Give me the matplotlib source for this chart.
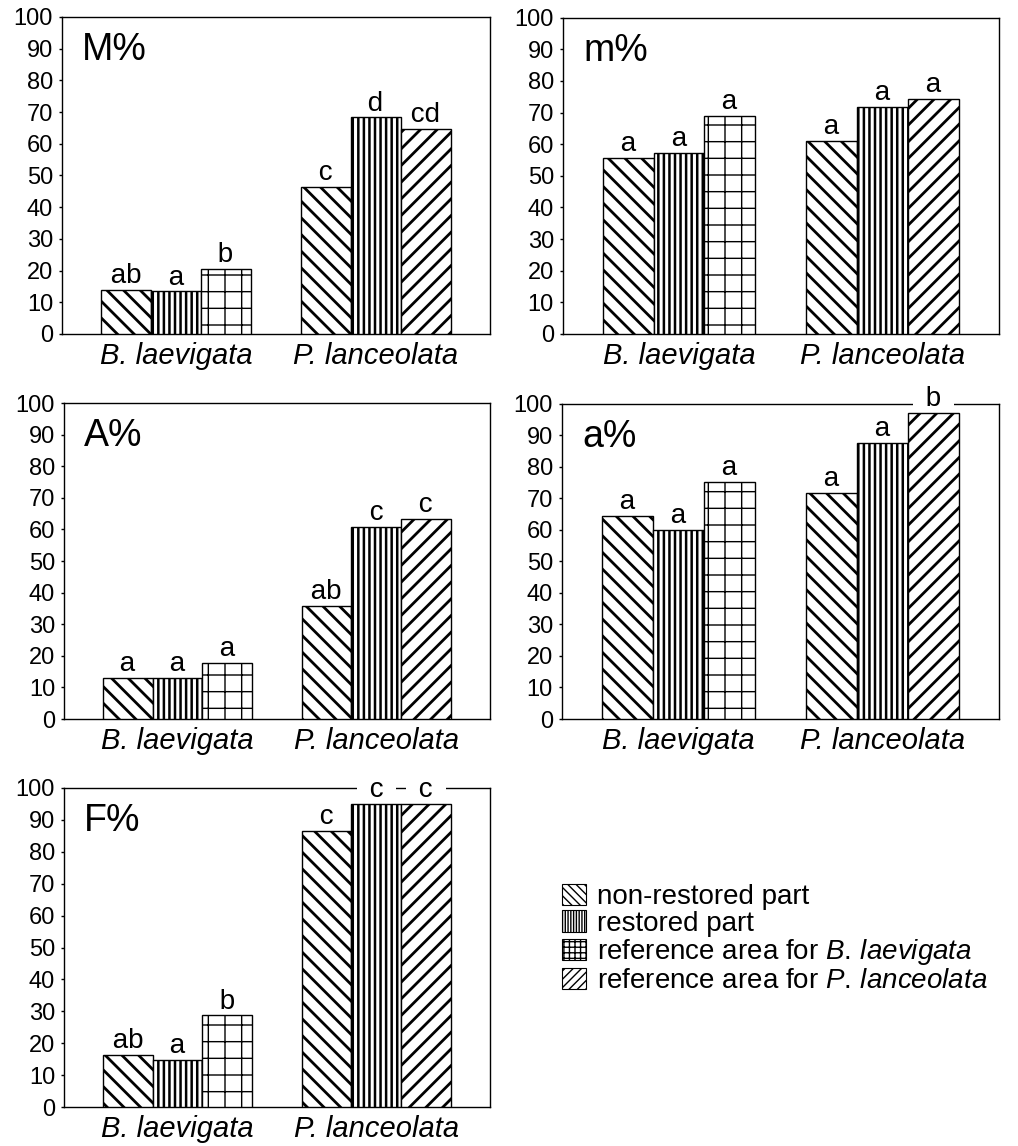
import numpy as np
import matplotlib
matplotlib.use("Agg")
import matplotlib.pyplot as plt
from matplotlib.patches import Patch

plt.rcParams['font.family'] = ['Liberation Sans', 'DejaVu Sans']
plt.rcParams['mathtext.fontset'] = 'custom'
plt.rcParams['mathtext.rm'] = 'Liberation Sans'
plt.rcParams['mathtext.it'] = 'Liberation Sans:italic'

species = ["B. laevigata", "P. lanceolata"]
panel_names = ["M%", "m%", "A%", "a%", "F%"]

# per species: [non-restored, restored, reference area]
M_vals = [[14.0, 13.4, 20.5], [46.5, 68.3, 64.7]]
m_vals = [[55.7, 57.1, 69.0], [60.9, 71.7, 74.3]]
A_vals = [[13.1, 13.1, 17.7], [35.7, 60.9, 63.4]]
a_vals = [[64.3, 60.0, 75.2], [71.7, 87.5, 97.2]]
F_vals = [[16.2, 14.7, 28.7], [86.6, 95.0, 95.0]]

M_lets = [["ab", "a", "b"], ["c", "d", "cd"]]
m_lets = [["a", "a", "a"], ["a", "a", "a"]]
A_lets = [["a", "a", "a"], ["ab", "c", "c"]]
a_lets = [["a", "a", "a"], ["a", "a", "b"]]
F_lets = [["ab", "a", "b"], ["c", "c", "c"]]

all_vals = [M_vals, m_vals, A_vals, a_vals, F_vals]
all_lets = [M_lets, m_lets, A_lets, a_lets, F_lets]

legend_labels = ["non-restored part", "restored part",
                 r"reference area for $\mathit{B.\,laevigata}$",
                 r"reference area for $\mathit{P.\,lanceolata}$"]

# hatch for: non-restored, restored, ref B, ref P
bar_hatch = ['\\\\', '|||', '+', '//']
bar_hlw = [2.0, 1.8, 1.0, 2.0]
leg_hatch = ['\\\\\\\\', '||||||', '+++', '////']

fig = plt.figure(figsize=(10.18, 11.46), dpi=100)

# left, bottom, width, height
positions = [
    [0.061, 0.7086, 0.420, 0.2766],
    [0.553, 0.7086, 0.428, 0.2760],
    [0.063, 0.3726, 0.418, 0.2757],
    [0.552, 0.3726, 0.429, 0.2750],
    [0.063, 0.0340, 0.418, 0.2784],
]

width = 0.25
offsets = [-0.25, 0.0, 0.25]
xg = np.arange(len(species))

for name, vals, lets, pos in zip(panel_names, all_vals, all_lets, positions):
    ax = fig.add_axes(pos)
    for g in range(len(species)):
        for k in range(3):
            if k < 2:
                hi = k
            else:
                hi = 2 + g
            with plt.rc_context({'hatch.linewidth': bar_hlw[hi]}):
                b = ax.bar(xg[g] + offsets[k], vals[g][k], width=width,
                           facecolor='white', edgecolor='black', linewidth=1.0,
                           hatch=bar_hatch[hi], zorder=3)
            for p in b:
                if hasattr(p, 'set_hatch_linewidth'):
                    p.set_hatch_linewidth(bar_hlw[hi])
            # white box behind the letter hides the frame where they meet
            ax.annotate(" " + lets[g][k] + " ", (xg[g] + offsets[k], vals[g][k]),
                        xytext=(0, 5), textcoords='offset points',
                        ha='center', va='baseline', fontsize=20, zorder=2.6,
                        bbox=dict(boxstyle='square,pad=0.18', facecolor='white',
                                  edgecolor='none'))
    ax.annotate(name, (0, 1), xycoords='axes fraction', xytext=(14.5, -31),
                textcoords='offset points', ha='left', va='baseline', fontsize=27)
    ax.set_xlim(-0.57, 1.57)
    ax.set_ylim(0, 100)
    ax.set_yticks(np.arange(0, 101, 10))
    ax.set_xticks(xg)
    ax.set_xticklabels(species, fontstyle='italic', fontsize=21)
    ax.tick_params(axis='y', direction='out', length=2.5, width=1.0, pad=4, labelsize=17)
    ax.tick_params(axis='x', length=0, pad=6)
    for s in ax.spines.values():
        s.set_linewidth(1.0)

handles = []
for i in range(4):
    with plt.rc_context({'hatch.linewidth': 0.8}):
        h = Patch(facecolor='white', edgecolor='black', linewidth=0.8, hatch=leg_hatch[i])
    handles.append(h)

fig.legend(handles, legend_labels, loc='upper left', bbox_to_anchor=(0.552, 0.229),
           frameon=False, fontsize=20, handlelength=0.85, handleheight=0.8,
           handletextpad=0.4, labelspacing=0.02, borderpad=0, borderaxespad=0)

fig.savefig("out.png", dpi=100)
